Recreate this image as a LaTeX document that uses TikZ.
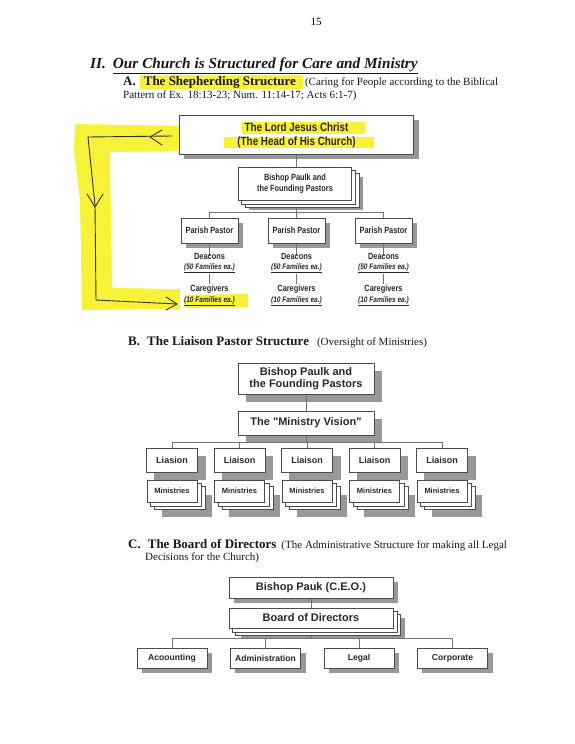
\documentclass[tikz,border=0pt]{standalone}
\usepackage{fontspec}
\setmainfont{Liberation Serif}
\newfontfamily\arialf{Liberation Sans}
\newfontfamily\narrowf[FakeStretch=0.82]{Liberation Sans}
\definecolor{hl}{RGB}{247,242,55}
\definecolor{shd}{RGB}{152,152,152}
\definecolor{ink}{RGB}{40,40,40}
\pgfdeclarelayer{shadows}
\pgfdeclarelayer{lines}
\pgfdeclarelayer{stack}
\pgfsetlayers{shadows,lines,stack,main}
\tikzset{
  orgbox/.style={draw=black!70, line width=0.7pt, fill=white, inner sep=0pt, text=ink, align=center},
  stackline/.style={draw=black!70, line width=0.7pt, fill=white},
  shadowfill/.style={fill=shd},
  conn/.style={draw=black!55, line width=0.6pt},
  pen/.style={draw=black!80, line width=0.9pt, line cap=round, line join=round},
  hlfill/.style={fill=hl},
  nA/.style={font=\narrowf\bfseries\fontsize{9}{10.5}\selectfont, text=ink},
  nAbig/.style={font=\narrowf\bfseries\fontsize{12}{14}\selectfont, text=ink, align=center},
  nAsmall/.style={font=\narrowf\bfseries\itshape\fontsize{8}{9}\selectfont, text=ink},
  aB/.style={font=\arialf\bfseries\fontsize{11}{12}\selectfont},
  aBsmall/.style={font=\arialf\bfseries\fontsize{9}{10}\selectfont},
  aBtiny/.style={font=\arialf\bfseries\fontsize{7.5}{8.5}\selectfont},
  aC/.style={font=\arialf\bfseries\fontsize{8.6}{10}\selectfont},
  head/.style={anchor=base west, inner sep=0pt, text=black!90}
}
\newcommand\orgshadow[3]{\begin{pgfonlayer}{shadows}\fill[shadowfill] ([shift={(#2,#3)}]#1.north west) rectangle ([shift={(#2,#3)}]#1.south east);\end{pgfonlayer}}
\newcommand\orgstack[3]{\begin{pgfonlayer}{stack}\filldraw[stackline] ([shift={(2*#2,2*#3)}]#1.north west) rectangle ([shift={(2*#2,2*#3)}]#1.south east);\filldraw[stackline] ([shift={(#2,#3)}]#1.north west) rectangle ([shift={(#2,#3)}]#1.south east);\end{pgfonlayer}}
\begin{document}
\begin{tikzpicture}[x=1pt,y=-1pt]
\useasboundingbox (0,0) rectangle (575,744);
\begin{pgfonlayer}{shadows}\fill[white] (0,0) rectangle (575,744);\end{pgfonlayer}

% page number and headings
\node[anchor=base, inner sep=0pt, font=\fontsize{11}{13}\selectfont] (pg) at (316,25) {15};
\node[head, font=\fontsize{15.3}{18}\selectfont\bfseries\itshape] (title) at (90,68) {II.\hspace{7pt}\underline{Our Church is Structured for Care and Ministry}};
\fill[hlfill] (140,75) rectangle (303,89);
\node[head] (hA) at (123,85) {\fontsize{13}{15}\selectfont\bfseries A.\hspace{8pt}The Shepherding Structure\hspace{9pt}\mdseries\fontsize{11}{13}\selectfont(Caring for People according to the Biblical};
\node[head, font=\fontsize{11}{13}\selectfont] (hA2) at (123,98) {Pattern of Ex. 18:13-23; Num. 11:14-17; Acts 6:1-7)};

% highlighter and pen annotation
\fill[hlfill] (75,124) -- (180,126) -- (180,151) -- (110,152) -- (112,288) -- (180,289) -- (180,309) -- (82,310) -- (80,200) -- (74,150) -- cycle;
\fill[hlfill] (185,295) -- (248,294) -- (248,307) -- (185,308) -- cycle;
\coordinate (p1) at (172,136);
\coordinate (p2) at (88,137);
\coordinate (p3) at (95,205);
\coordinate (p4) at (96,300);
\coordinate (p5) at (177,304);
\draw[pen] (p1) -- (p2) -- (p3) -- (p4) -- (p5);
\draw[pen] (162,130) -- (150,137) -- (162,145);
\draw[pen] (87,194) -- (95,207) -- (103,194);
\draw[pen] (166,297) -- (177,304) -- (166,310);

% ---------- A: shepherding structure ----------
\node[orgbox, minimum width=234pt, minimum height=39pt] (lord) at (296.5,134.5) {};
\fill[hlfill] (242,122) rectangle (365,134);
\fill[hlfill] (224,137) rectangle (374,148);
\node[nAbig, inner sep=0pt] (lordtxt) at (296.5,135) {The Lord Jesus Christ\\(The Head of His Church)};
\orgshadow{lord}{5}{5}

\node[orgbox, nA, minimum width=113pt, minimum height=33pt] (bpA) at (295,183.5) {Bishop Paulk and\\[1pt]the Founding Pastors};
\orgstack{bpA}{3.5}{3.5}
\orgshadow{bpA}{11}{10}

\foreach \i/\x in {1/209.5,2/296.5,3/383.5}{
  \node[orgbox, nA, minimum width=57pt, minimum height=25pt] (pp\i) at (\x,230.5) {Parish Pastor};
  \orgshadow{pp\i}{5}{5}
  \node[nA, inner sep=1pt] (dc\i) at (\x,256) {Deacons};
  \node[nAsmall, inner sep=1pt] (fa\i) at (\x,268) {\underline{(50 Families ea.)}};
  \node[nA, inner sep=1pt] (cg\i) at (\x,289) {Caregivers};
  \node[nAsmall, inner sep=1pt] (fb\i) at (\x,301) {\underline{(10 Families ea.)}};
}
\coordinate (busA) at (296.5,212);
\begin{pgfonlayer}{lines}
\draw[conn] (lord.south) -- (lord.south |- bpA.north);
\draw[conn] (lord.south |- bpA.south) -- (busA);
\draw[conn] (pp1.north) -- (pp1.north |- busA) -- (pp3.north |- busA) -- (pp3.north);
\draw[conn] (pp2.north) -- (busA);
\foreach \i in {1,2,3}{
  \draw[conn] (pp\i.south) -- (dc\i.center);
  \draw[conn] (fa\i.south) -- (cg\i.north);
}
\end{pgfonlayer}

% ---------- B: liaison pastor structure ----------
\node[head] (hB) at (128,345) {\fontsize{13}{15}\selectfont\bfseries B.\hspace{7pt}The Liaison Pastor Structure\hspace{8pt}\mdseries\fontsize{11}{13}\selectfont(Oversight of Ministries)};

\node[orgbox, aB, minimum width=136pt, minimum height=31pt] (bpB) at (306,378.5) {Bishop Paulk and\\the Founding Pastors};
\orgshadow{bpB}{8}{8}
\node[orgbox, aB, minimum width=136pt, minimum height=24pt] (vis) at (306,423) {The "Ministry Vision"};
\orgshadow{vis}{8}{8}
\coordinate (busB) at (306,442);
\foreach \i/\x/\t in {1/172/Liasion,2/239.5/Liaison,3/307/Liaison,4/374.5/Liaison,5/442/Liaison}{
  \node[orgbox, aBsmall, minimum width=51pt, minimum height=24pt] (li\i) at (\x,460) {\t};
  \orgshadow{li\i}{8}{8}
  \node[orgbox, aBtiny, minimum width=50pt, minimum height=22pt] (mi\i) at (\x,491) {Ministries};
  \orgstack{mi\i}{4}{3.5}
  \orgshadow{mi\i}{15}{15}
}
\begin{pgfonlayer}{lines}
\draw[conn] (bpB.south) -- (vis.north);
\draw[conn] (vis.south) -- (busB);
\draw[conn] (li1.north) -- (li1.north |- busB) -- (li5.north |- busB) -- (li5.north);
\foreach \i in {2,3,4}{ \draw[conn] (li\i.north) -- (li\i.north |- busB); }
\end{pgfonlayer}

% ---------- C: board of directors ----------
\node[head] (hC) at (128,548) {\fontsize{13}{15}\selectfont\bfseries C.\hspace{7pt}The Board of Directors\hspace{5pt}\mdseries\fontsize{11}{13}\selectfont(The Administrative Structure for making all Legal};
\node[head, font=\fontsize{11}{13}\selectfont] (hC2) at (145,560) {Decisions for the Church)};

\node[orgbox, aB, minimum width=164pt, minimum height=21pt] (ceo) at (311,587.5) {Bishop Pauk (C.E.O.)};
\orgshadow{ceo}{5}{5}
\node[orgbox, aB, minimum width=164pt, minimum height=20pt] (bod) at (311,618) {Board of Directors};
\orgstack{bod}{3.5}{3.5}
\orgshadow{bod}{12}{10}
\coordinate (busC) at (311,638);
\foreach \n/\x/\t in {acc/172/Acoounting,adm/265.5/Administration,leg/359/Legal,cor/452.5/Corporate}{
  \node[orgbox, aC, minimum width=70pt, minimum height=20pt] (\n) at (\x,658) {\t};
  \orgshadow{\n}{5}{5}
}
\begin{pgfonlayer}{lines}
\draw[conn] (ceo.south) -- (bod.north);
\draw[conn] (bod.south) -- (busC);
\draw[conn] (acc.north) -- (acc.north |- busC) -- (cor.north |- busC) -- (cor.north);
\draw[conn] (adm.north) -- (adm.north |- busC);
\draw[conn] (leg.north) -- (leg.north |- busC);
\end{pgfonlayer}
\end{tikzpicture}
\end{document}
